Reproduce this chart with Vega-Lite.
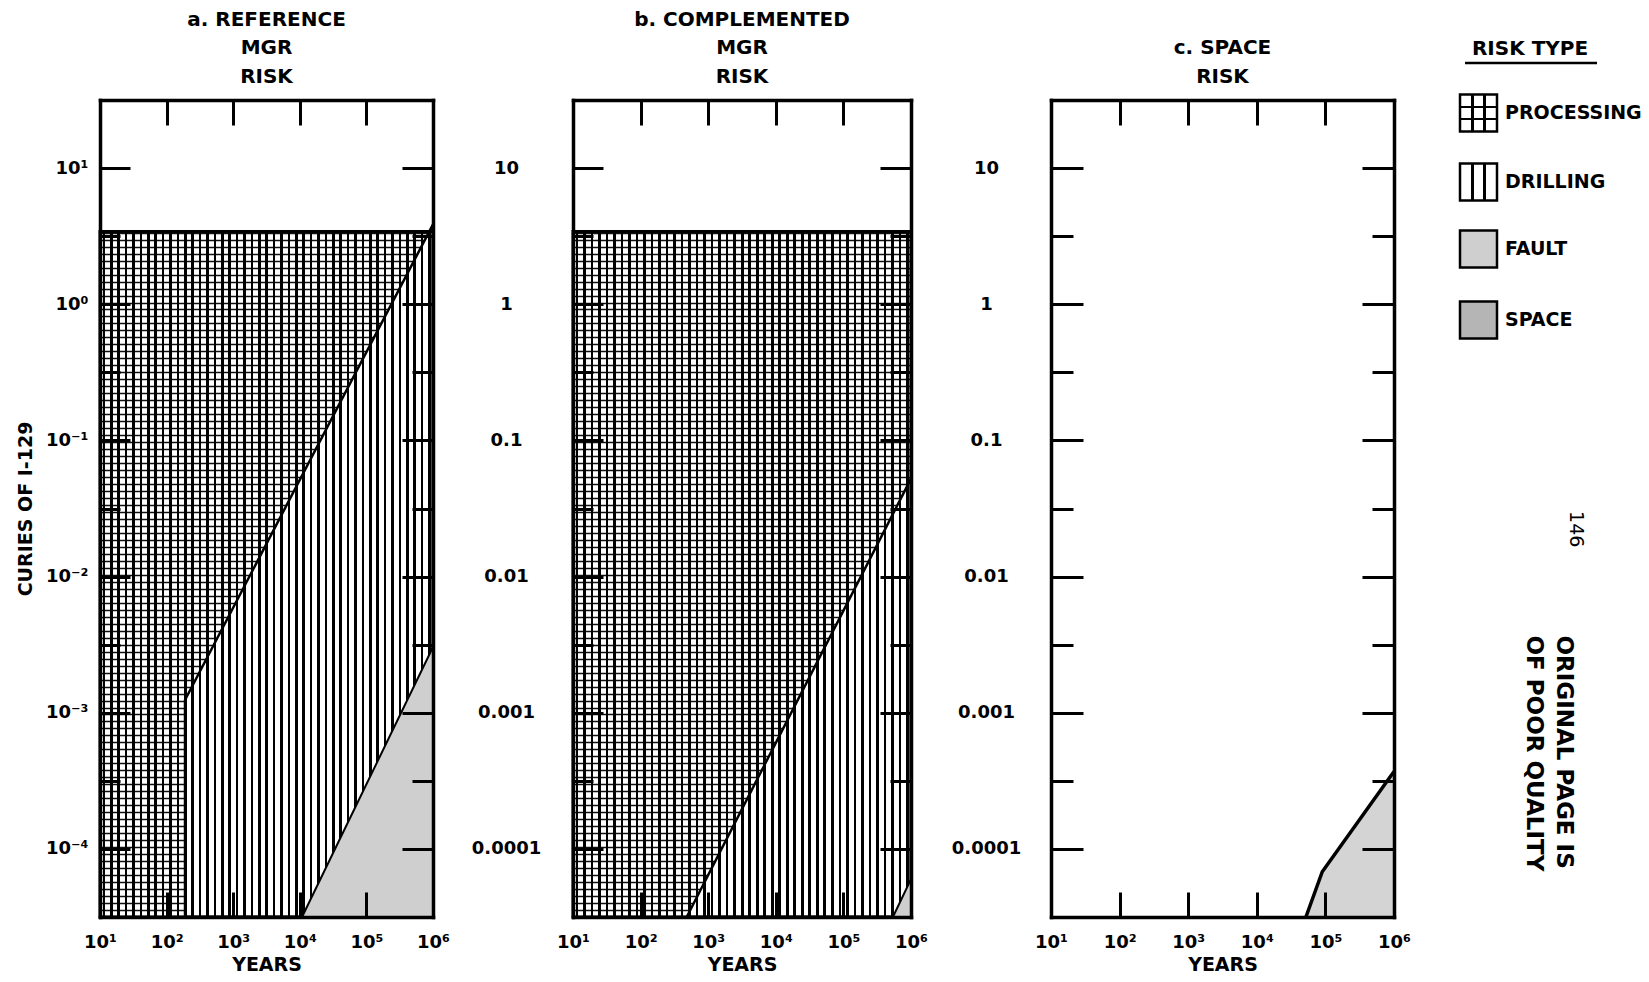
{
"$schema":"https://vega.github.io/schema/vega-lite/v6.json",
"background":"white",
"padding":{"left":16,"top":9,"right":0,"bottom":0},
"bounds":"flush",
"spacing":140,
"datasets":{
"curves":[
{"panel":"a","risk":"processing","year":10,"curies":3.42},
{"panel":"a","risk":"processing","year":1000000,"curies":3.42},
{"panel":"a","risk":"drilling","year":189,"curies":0.00124},
{"panel":"a","risk":"drilling","year":1000000,"curies":3.86},
{"panel":"a","risk":"fault","year":10800,"curies":0.000031623},
{"panel":"a","risk":"fault","year":1000000,"curies":0.00304},
{"panel":"b","risk":"processing","year":10,"curies":3.42},
{"panel":"b","risk":"processing","year":1000000,"curies":3.42},
{"panel":"b","risk":"drilling","year":481,"curies":0.000031623},
{"panel":"b","risk":"drilling","year":1000000,"curies":0.0524},
{"panel":"b","risk":"fault","year":540000,"curies":0.000031623},
{"panel":"b","risk":"fault","year":1000000,"curies":0.00006},
{"panel":"c","risk":"space","year":52000,"curies":0.000031623},
{"panel":"c","risk":"space","year":90000,"curies":0.000068},
{"panel":"c","risk":"space","year":1000000,"curies":0.00037}
],
"legend":[
{"type":"PROCESSING","slot":0},
{"type":"DRILLING","slot":1},
{"type":"FAULT","slot":1.97},
{"type":"SPACE","slot":3}
],
"heading":[
{"text":"RISK TYPE","slot":-0.93,"lineslot":-0.725}
],
"notes":[
{"kind":"page","note":"146","slot":6.03},
{"kind":"stamp","note":"ORIGINAL PAGE IS\nOF POOR QUALITY","slot":7.57}
]
},
"hconcat":[
{
"width":333,"height":817,
"title":{"text":["a. REFERENCE","MGR","RISK"],"fontSize":20,"fontWeight":"bold","lineHeight":28.5,"offset":-8,"baseline":"bottom","anchor":"middle","color":"black"},
"resolve":{"scale":{"x":"independent","y":"independent"},"axis":{"x":"independent","y":"independent"}},
"layer":[
{"data":{"values":[{}]},"mark":{"type":"rule","opacity":0},
"encoding":{"y":{"datum":0,"type":"quantitative","scale":{"domain":[0,117],"nice":false,"zero":false},"axis":{"orient":"left","grid":true,"gridColor":"#111111","gridWidth":1.4,"ticks":false,"labels":false,"domain":false,"title":null,"tickCount":117,"zindex":0}}}},
{"data":{"name":"curves"},"transform":[{"filter":"datum.panel=='a' && datum.risk=='processing'"}],
"mark":{"type":"area","fill":"white","strokeWidth":0},
"encoding":{
"x":{"field":"year","type":"quantitative","scale":{"type":"log","domain":[10,1000000],"nice":false},
"axis":{"orient":"bottom","values":[10,100,1000,10000,100000,1000000],"tickSize":-25,"tickWidth":3,"tickColor":"black","domain":true,"domainWidth":3.5,"domainColor":"black","domainCap":"square","grid":false,"labelExpr":"datum.value==10?'10¹':datum.value==100?'10²':datum.value==1000?'10³':datum.value==10000?'10⁴':datum.value==100000?'10⁵':'10⁶'","labelPadding":41,"labelFontSize":18,"labelFontWeight":"bold","labelColor":"black","labelFlush":false,"labelOverlap":false,"labelBound":false,"title":"YEARS","titleFontSize":19,"titleFontWeight":"bold","titleColor":"black","titlePadding":4,"zindex":1}},
"y":{"field":"curies","type":"quantitative","scale":{"type":"log","domain":[0.000031623,31.623],"nice":false},
"axis":{"orient":"left","values":[0.0001,0.00031623,0.001,0.0031623,0.01,0.031623,0.1,0.31623,1,3.1623,10],"tickSize":{"condition":{"test":"indexof([0.0001,0.001,0.01,0.1,1,10],datum.value)>=0","value":-30},"value":-20},"tickWidth":3,"tickColor":"black","domain":true,"domainWidth":3.5,"domainColor":"black","domainCap":"square","grid":false,"labelExpr":"datum.value==10?'10¹':datum.value==1?'10⁰':datum.value==0.1?'10⁻¹':datum.value==0.01?'10⁻²':datum.value==0.001?'10⁻³':datum.value==0.0001?'10⁻⁴':''","labelPadding":42,"labelFontSize":18,"labelFontWeight":"bold","labelColor":"black","labelBaseline":"middle","labelFlush":false,"labelOverlap":false,"labelBound":false,"title":"CURIES OF I-129","titleFontSize":19,"titleFontWeight":"bold","titleColor":"black","titlePadding":10,"zindex":1}},
"y2":{"datum":31.623}}},
{"data":{"name":"curves"},"transform":[{"filter":"datum.panel=='a' && datum.risk=='drilling'"}],
"mark":{"type":"area","fill":"white","stroke":"black","strokeWidth":2.5},
"encoding":{
"x":{"field":"year","type":"quantitative","scale":{"type":"log","domain":[10,1000000],"nice":false},
"axis":{"orient":"top","values":[100,1000,10000,100000],"tickSize":-25,"tickWidth":3,"tickColor":"black","domain":true,"domainWidth":3.5,"domainColor":"black","domainCap":"square","grid":false,"labels":false,"title":null,"zindex":1}},
"y":{"field":"curies","type":"quantitative","scale":{"type":"log","domain":[0.000031623,31.623],"nice":false},
"axis":{"orient":"right","values":[0.0001,0.00031623,0.001,0.0031623,0.01,0.031623,0.1,0.31623,1,3.1623,10],"tickSize":{"condition":{"test":"indexof([0.0001,0.001,0.01,0.1,1,10],datum.value)>=0","value":-31},"value":-21},"tickWidth":3,"tickColor":"black","domain":true,"domainWidth":3.5,"domainColor":"black","domainCap":"square","grid":false,"labels":false,"title":null,"zindex":1}},
"y2":{"datum":0.000031623}}},
{"data":{"name":"curves"},"transform":[{"filter":"datum.panel=='a' && datum.risk=='processing'"}],
"mark":{"type":"area","stroke":"black","strokeWidth":3,"fill":{"gradient":"linear","x1":0,"y1":0,"x2":1,"y2":0,"stops":[
{"offset":0.00778,"color":"transparent"},{"offset":0.00778,"color":"#000"},{"offset":0.01558,"color":"#000"},{"offset":0.01558,"color":"transparent"},
{"offset":0.03,"color":"transparent"},{"offset":0.03,"color":"#000"},{"offset":0.0378,"color":"#000"},{"offset":0.0378,"color":"transparent"},
{"offset":0.05222,"color":"transparent"},{"offset":0.05222,"color":"#000"},{"offset":0.06002,"color":"#000"},{"offset":0.06002,"color":"transparent"},
{"offset":0.07444,"color":"transparent"},{"offset":0.07444,"color":"#000"},{"offset":0.08224,"color":"#000"},{"offset":0.08224,"color":"transparent"},
{"offset":0.09667,"color":"transparent"},{"offset":0.09667,"color":"#000"},{"offset":0.10447,"color":"#000"},{"offset":0.10447,"color":"transparent"},
{"offset":0.11889,"color":"transparent"},{"offset":0.11889,"color":"#000"},{"offset":0.12669,"color":"#000"},{"offset":0.12669,"color":"transparent"},
{"offset":0.14111,"color":"transparent"},{"offset":0.14111,"color":"#000"},{"offset":0.14891,"color":"#000"},{"offset":0.14891,"color":"transparent"},
{"offset":0.16333,"color":"transparent"},{"offset":0.16333,"color":"#000"},{"offset":0.17113,"color":"#000"},{"offset":0.17113,"color":"transparent"},
{"offset":0.18556,"color":"transparent"},{"offset":0.18556,"color":"#000"},{"offset":0.19336,"color":"#000"},{"offset":0.19336,"color":"transparent"},
{"offset":0.20778,"color":"transparent"},{"offset":0.20778,"color":"#000"},{"offset":0.21558,"color":"#000"},{"offset":0.21558,"color":"transparent"},
{"offset":0.23,"color":"transparent"},{"offset":0.23,"color":"#000"},{"offset":0.2378,"color":"#000"},{"offset":0.2378,"color":"transparent"},
{"offset":0.25222,"color":"transparent"},{"offset":0.25222,"color":"#000"},{"offset":0.26002,"color":"#000"},{"offset":0.26002,"color":"transparent"},
{"offset":0.27444,"color":"transparent"},{"offset":0.27444,"color":"#000"},{"offset":0.28224,"color":"#000"},{"offset":0.28224,"color":"transparent"},
{"offset":0.29667,"color":"transparent"},{"offset":0.29667,"color":"#000"},{"offset":0.30447,"color":"#000"},{"offset":0.30447,"color":"transparent"},
{"offset":0.31889,"color":"transparent"},{"offset":0.31889,"color":"#000"},{"offset":0.32669,"color":"#000"},{"offset":0.32669,"color":"transparent"},
{"offset":0.34111,"color":"transparent"},{"offset":0.34111,"color":"#000"},{"offset":0.34891,"color":"#000"},{"offset":0.34891,"color":"transparent"},
{"offset":0.36333,"color":"transparent"},{"offset":0.36333,"color":"#000"},{"offset":0.37113,"color":"#000"},{"offset":0.37113,"color":"transparent"},
{"offset":0.38556,"color":"transparent"},{"offset":0.38556,"color":"#000"},{"offset":0.39336,"color":"#000"},{"offset":0.39336,"color":"transparent"},
{"offset":0.40778,"color":"transparent"},{"offset":0.40778,"color":"#000"},{"offset":0.41558,"color":"#000"},{"offset":0.41558,"color":"transparent"},
{"offset":0.43,"color":"transparent"},{"offset":0.43,"color":"#000"},{"offset":0.4378,"color":"#000"},{"offset":0.4378,"color":"transparent"},
{"offset":0.45222,"color":"transparent"},{"offset":0.45222,"color":"#000"},{"offset":0.46002,"color":"#000"},{"offset":0.46002,"color":"transparent"},
{"offset":0.47444,"color":"transparent"},{"offset":0.47444,"color":"#000"},{"offset":0.48224,"color":"#000"},{"offset":0.48224,"color":"transparent"},
{"offset":0.49667,"color":"transparent"},{"offset":0.49667,"color":"#000"},{"offset":0.50447,"color":"#000"},{"offset":0.50447,"color":"transparent"},
{"offset":0.51889,"color":"transparent"},{"offset":0.51889,"color":"#000"},{"offset":0.52669,"color":"#000"},{"offset":0.52669,"color":"transparent"},
{"offset":0.54111,"color":"transparent"},{"offset":0.54111,"color":"#000"},{"offset":0.54891,"color":"#000"},{"offset":0.54891,"color":"transparent"},
{"offset":0.56333,"color":"transparent"},{"offset":0.56333,"color":"#000"},{"offset":0.57113,"color":"#000"},{"offset":0.57113,"color":"transparent"},
{"offset":0.58556,"color":"transparent"},{"offset":0.58556,"color":"#000"},{"offset":0.59336,"color":"#000"},{"offset":0.59336,"color":"transparent"},
{"offset":0.60778,"color":"transparent"},{"offset":0.60778,"color":"#000"},{"offset":0.61558,"color":"#000"},{"offset":0.61558,"color":"transparent"},
{"offset":0.63,"color":"transparent"},{"offset":0.63,"color":"#000"},{"offset":0.6378,"color":"#000"},{"offset":0.6378,"color":"transparent"},
{"offset":0.65222,"color":"transparent"},{"offset":0.65222,"color":"#000"},{"offset":0.66002,"color":"#000"},{"offset":0.66002,"color":"transparent"},
{"offset":0.67444,"color":"transparent"},{"offset":0.67444,"color":"#000"},{"offset":0.68224,"color":"#000"},{"offset":0.68224,"color":"transparent"},
{"offset":0.69667,"color":"transparent"},{"offset":0.69667,"color":"#000"},{"offset":0.70447,"color":"#000"},{"offset":0.70447,"color":"transparent"},
{"offset":0.71889,"color":"transparent"},{"offset":0.71889,"color":"#000"},{"offset":0.72669,"color":"#000"},{"offset":0.72669,"color":"transparent"},
{"offset":0.74111,"color":"transparent"},{"offset":0.74111,"color":"#000"},{"offset":0.74891,"color":"#000"},{"offset":0.74891,"color":"transparent"},
{"offset":0.76333,"color":"transparent"},{"offset":0.76333,"color":"#000"},{"offset":0.77113,"color":"#000"},{"offset":0.77113,"color":"transparent"},
{"offset":0.78556,"color":"transparent"},{"offset":0.78556,"color":"#000"},{"offset":0.79336,"color":"#000"},{"offset":0.79336,"color":"transparent"},
{"offset":0.80778,"color":"transparent"},{"offset":0.80778,"color":"#000"},{"offset":0.81558,"color":"#000"},{"offset":0.81558,"color":"transparent"},
{"offset":0.83,"color":"transparent"},{"offset":0.83,"color":"#000"},{"offset":0.8378,"color":"#000"},{"offset":0.8378,"color":"transparent"},
{"offset":0.85222,"color":"transparent"},{"offset":0.85222,"color":"#000"},{"offset":0.86002,"color":"#000"},{"offset":0.86002,"color":"transparent"},
{"offset":0.87444,"color":"transparent"},{"offset":0.87444,"color":"#000"},{"offset":0.88224,"color":"#000"},{"offset":0.88224,"color":"transparent"},
{"offset":0.89667,"color":"transparent"},{"offset":0.89667,"color":"#000"},{"offset":0.90447,"color":"#000"},{"offset":0.90447,"color":"transparent"},
{"offset":0.91889,"color":"transparent"},{"offset":0.91889,"color":"#000"},{"offset":0.92669,"color":"#000"},{"offset":0.92669,"color":"transparent"},
{"offset":0.94111,"color":"transparent"},{"offset":0.94111,"color":"#000"},{"offset":0.94891,"color":"#000"},{"offset":0.94891,"color":"transparent"},
{"offset":0.96333,"color":"transparent"},{"offset":0.96333,"color":"#000"},{"offset":0.97113,"color":"#000"},{"offset":0.97113,"color":"transparent"},
{"offset":0.98556,"color":"transparent"},{"offset":0.98556,"color":"#000"},{"offset":0.99336,"color":"#000"},{"offset":0.99336,"color":"transparent"}
]}},
"encoding":{
"x":{"field":"year","type":"quantitative","scale":{"type":"log","domain":[10,1000000],"nice":false},"axis":null},
"y":{"field":"curies","type":"quantitative","scale":{"type":"log","domain":[0.000031623,31.623],"nice":false},"axis":null},
"y2":{"datum":0.000031623}}},
{"data":{"name":"curves"},"transform":[{"filter":"datum.panel=='a' && datum.risk=='fault'"}],
"mark":{"type":"area","fill":"#cfcfcf","stroke":"black","strokeWidth":2},
"encoding":{
"x":{"field":"year","type":"quantitative","scale":{"type":"log","domain":[10,1000000],"nice":false},"axis":null},
"y":{"field":"curies","type":"quantitative","scale":{"type":"log","domain":[0.000031623,31.623],"nice":false},"axis":null},
"y2":{"datum":0.000031623}}}
]
},
{
"width":338,"height":817,
"title":{"text":["b. COMPLEMENTED","MGR","RISK"],"fontSize":20,"fontWeight":"bold","lineHeight":28.5,"offset":-8,"baseline":"bottom","anchor":"middle","color":"black"},
"resolve":{"scale":{"x":"independent","y":"independent"},"axis":{"x":"independent","y":"independent"}},
"layer":[
{"data":{"values":[{}]},"mark":{"type":"rule","opacity":0},
"encoding":{"y":{"datum":0,"type":"quantitative","scale":{"domain":[0,117],"nice":false,"zero":false},"axis":{"orient":"left","grid":true,"gridColor":"#111111","gridWidth":1.4,"ticks":false,"labels":false,"domain":false,"title":null,"tickCount":117,"zindex":0}}}},
{"data":{"name":"curves"},"transform":[{"filter":"datum.panel=='b' && datum.risk=='processing'"}],
"mark":{"type":"area","fill":"white","strokeWidth":0},
"encoding":{
"x":{"field":"year","type":"quantitative","scale":{"type":"log","domain":[10,1000000],"nice":false},
"axis":{"orient":"bottom","values":[10,100,1000,10000,100000,1000000],"tickSize":-25,"tickWidth":3,"tickColor":"black","domain":true,"domainWidth":3.5,"domainColor":"black","domainCap":"square","grid":false,"labelExpr":"datum.value==10?'10¹':datum.value==100?'10²':datum.value==1000?'10³':datum.value==10000?'10⁴':datum.value==100000?'10⁵':'10⁶'","labelPadding":41,"labelFontSize":18,"labelFontWeight":"bold","labelColor":"black","labelFlush":false,"labelOverlap":false,"labelBound":false,"title":"YEARS","titleFontSize":19,"titleFontWeight":"bold","titleColor":"black","titlePadding":4,"zindex":1}},
"y":{"field":"curies","type":"quantitative","scale":{"type":"log","domain":[0.000031623,31.623],"nice":false},
"axis":{"orient":"left","values":[0.0001,0.00031623,0.001,0.0031623,0.01,0.031623,0.1,0.31623,1,3.1623,10],"tickSize":{"condition":{"test":"indexof([0.0001,0.001,0.01,0.1,1,10],datum.value)>=0","value":-30},"value":-20},"tickWidth":3,"tickColor":"black","domain":true,"domainWidth":3.5,"domainColor":"black","domainCap":"square","grid":false,"labelExpr":"datum.value==10?'10':datum.value==1?'1':datum.value==0.1?'0.1':datum.value==0.01?'0.01':datum.value==0.001?'0.001':datum.value==0.0001?'0.0001':''","labelAlign":"center","labelPadding":97,"labelFontSize":18,"labelFontWeight":"bold","labelColor":"black","labelBaseline":"middle","labelFlush":false,"labelOverlap":false,"labelBound":false,"title":null,"zindex":1}},
"y2":{"datum":31.623}}},
{"data":{"name":"curves"},"transform":[{"filter":"datum.panel=='b' && datum.risk=='drilling'"}],
"mark":{"type":"area","fill":"white","stroke":"black","strokeWidth":2.5},
"encoding":{
"x":{"field":"year","type":"quantitative","scale":{"type":"log","domain":[10,1000000],"nice":false},
"axis":{"orient":"top","values":[100,1000,10000,100000],"tickSize":-25,"tickWidth":3,"tickColor":"black","domain":true,"domainWidth":3.5,"domainColor":"black","domainCap":"square","grid":false,"labels":false,"title":null,"zindex":1}},
"y":{"field":"curies","type":"quantitative","scale":{"type":"log","domain":[0.000031623,31.623],"nice":false},
"axis":{"orient":"right","values":[0.0001,0.00031623,0.001,0.0031623,0.01,0.031623,0.1,0.31623,1,3.1623,10],"tickSize":{"condition":{"test":"indexof([0.0001,0.001,0.01,0.1,1,10],datum.value)>=0","value":-31},"value":-21},"tickWidth":3,"tickColor":"black","domain":true,"domainWidth":3.5,"domainColor":"black","domainCap":"square","grid":false,"labels":false,"title":null,"zindex":1}},
"y2":{"datum":0.000031623}}},
{"data":{"name":"curves"},"transform":[{"filter":"datum.panel=='b' && datum.risk=='processing'"}],
"mark":{"type":"area","stroke":"black","strokeWidth":3,"fill":{"gradient":"linear","x1":0,"y1":0,"x2":1,"y2":0,"stops":[
{"offset":0.00778,"color":"transparent"},{"offset":0.00778,"color":"#000"},{"offset":0.01558,"color":"#000"},{"offset":0.01558,"color":"transparent"},
{"offset":0.03,"color":"transparent"},{"offset":0.03,"color":"#000"},{"offset":0.0378,"color":"#000"},{"offset":0.0378,"color":"transparent"},
{"offset":0.05222,"color":"transparent"},{"offset":0.05222,"color":"#000"},{"offset":0.06002,"color":"#000"},{"offset":0.06002,"color":"transparent"},
{"offset":0.07444,"color":"transparent"},{"offset":0.07444,"color":"#000"},{"offset":0.08224,"color":"#000"},{"offset":0.08224,"color":"transparent"},
{"offset":0.09667,"color":"transparent"},{"offset":0.09667,"color":"#000"},{"offset":0.10447,"color":"#000"},{"offset":0.10447,"color":"transparent"},
{"offset":0.11889,"color":"transparent"},{"offset":0.11889,"color":"#000"},{"offset":0.12669,"color":"#000"},{"offset":0.12669,"color":"transparent"},
{"offset":0.14111,"color":"transparent"},{"offset":0.14111,"color":"#000"},{"offset":0.14891,"color":"#000"},{"offset":0.14891,"color":"transparent"},
{"offset":0.16333,"color":"transparent"},{"offset":0.16333,"color":"#000"},{"offset":0.17113,"color":"#000"},{"offset":0.17113,"color":"transparent"},
{"offset":0.18556,"color":"transparent"},{"offset":0.18556,"color":"#000"},{"offset":0.19336,"color":"#000"},{"offset":0.19336,"color":"transparent"},
{"offset":0.20778,"color":"transparent"},{"offset":0.20778,"color":"#000"},{"offset":0.21558,"color":"#000"},{"offset":0.21558,"color":"transparent"},
{"offset":0.23,"color":"transparent"},{"offset":0.23,"color":"#000"},{"offset":0.2378,"color":"#000"},{"offset":0.2378,"color":"transparent"},
{"offset":0.25222,"color":"transparent"},{"offset":0.25222,"color":"#000"},{"offset":0.26002,"color":"#000"},{"offset":0.26002,"color":"transparent"},
{"offset":0.27444,"color":"transparent"},{"offset":0.27444,"color":"#000"},{"offset":0.28224,"color":"#000"},{"offset":0.28224,"color":"transparent"},
{"offset":0.29667,"color":"transparent"},{"offset":0.29667,"color":"#000"},{"offset":0.30447,"color":"#000"},{"offset":0.30447,"color":"transparent"},
{"offset":0.31889,"color":"transparent"},{"offset":0.31889,"color":"#000"},{"offset":0.32669,"color":"#000"},{"offset":0.32669,"color":"transparent"},
{"offset":0.34111,"color":"transparent"},{"offset":0.34111,"color":"#000"},{"offset":0.34891,"color":"#000"},{"offset":0.34891,"color":"transparent"},
{"offset":0.36333,"color":"transparent"},{"offset":0.36333,"color":"#000"},{"offset":0.37113,"color":"#000"},{"offset":0.37113,"color":"transparent"},
{"offset":0.38556,"color":"transparent"},{"offset":0.38556,"color":"#000"},{"offset":0.39336,"color":"#000"},{"offset":0.39336,"color":"transparent"},
{"offset":0.40778,"color":"transparent"},{"offset":0.40778,"color":"#000"},{"offset":0.41558,"color":"#000"},{"offset":0.41558,"color":"transparent"},
{"offset":0.43,"color":"transparent"},{"offset":0.43,"color":"#000"},{"offset":0.4378,"color":"#000"},{"offset":0.4378,"color":"transparent"},
{"offset":0.45222,"color":"transparent"},{"offset":0.45222,"color":"#000"},{"offset":0.46002,"color":"#000"},{"offset":0.46002,"color":"transparent"},
{"offset":0.47444,"color":"transparent"},{"offset":0.47444,"color":"#000"},{"offset":0.48224,"color":"#000"},{"offset":0.48224,"color":"transparent"},
{"offset":0.49667,"color":"transparent"},{"offset":0.49667,"color":"#000"},{"offset":0.50447,"color":"#000"},{"offset":0.50447,"color":"transparent"},
{"offset":0.51889,"color":"transparent"},{"offset":0.51889,"color":"#000"},{"offset":0.52669,"color":"#000"},{"offset":0.52669,"color":"transparent"},
{"offset":0.54111,"color":"transparent"},{"offset":0.54111,"color":"#000"},{"offset":0.54891,"color":"#000"},{"offset":0.54891,"color":"transparent"},
{"offset":0.56333,"color":"transparent"},{"offset":0.56333,"color":"#000"},{"offset":0.57113,"color":"#000"},{"offset":0.57113,"color":"transparent"},
{"offset":0.58556,"color":"transparent"},{"offset":0.58556,"color":"#000"},{"offset":0.59336,"color":"#000"},{"offset":0.59336,"color":"transparent"},
{"offset":0.60778,"color":"transparent"},{"offset":0.60778,"color":"#000"},{"offset":0.61558,"color":"#000"},{"offset":0.61558,"color":"transparent"},
{"offset":0.63,"color":"transparent"},{"offset":0.63,"color":"#000"},{"offset":0.6378,"color":"#000"},{"offset":0.6378,"color":"transparent"},
{"offset":0.65222,"color":"transparent"},{"offset":0.65222,"color":"#000"},{"offset":0.66002,"color":"#000"},{"offset":0.66002,"color":"transparent"},
{"offset":0.67444,"color":"transparent"},{"offset":0.67444,"color":"#000"},{"offset":0.68224,"color":"#000"},{"offset":0.68224,"color":"transparent"},
{"offset":0.69667,"color":"transparent"},{"offset":0.69667,"color":"#000"},{"offset":0.70447,"color":"#000"},{"offset":0.70447,"color":"transparent"},
{"offset":0.71889,"color":"transparent"},{"offset":0.71889,"color":"#000"},{"offset":0.72669,"color":"#000"},{"offset":0.72669,"color":"transparent"},
{"offset":0.74111,"color":"transparent"},{"offset":0.74111,"color":"#000"},{"offset":0.74891,"color":"#000"},{"offset":0.74891,"color":"transparent"},
{"offset":0.76333,"color":"transparent"},{"offset":0.76333,"color":"#000"},{"offset":0.77113,"color":"#000"},{"offset":0.77113,"color":"transparent"},
{"offset":0.78556,"color":"transparent"},{"offset":0.78556,"color":"#000"},{"offset":0.79336,"color":"#000"},{"offset":0.79336,"color":"transparent"},
{"offset":0.80778,"color":"transparent"},{"offset":0.80778,"color":"#000"},{"offset":0.81558,"color":"#000"},{"offset":0.81558,"color":"transparent"},
{"offset":0.83,"color":"transparent"},{"offset":0.83,"color":"#000"},{"offset":0.8378,"color":"#000"},{"offset":0.8378,"color":"transparent"},
{"offset":0.85222,"color":"transparent"},{"offset":0.85222,"color":"#000"},{"offset":0.86002,"color":"#000"},{"offset":0.86002,"color":"transparent"},
{"offset":0.87444,"color":"transparent"},{"offset":0.87444,"color":"#000"},{"offset":0.88224,"color":"#000"},{"offset":0.88224,"color":"transparent"},
{"offset":0.89667,"color":"transparent"},{"offset":0.89667,"color":"#000"},{"offset":0.90447,"color":"#000"},{"offset":0.90447,"color":"transparent"},
{"offset":0.91889,"color":"transparent"},{"offset":0.91889,"color":"#000"},{"offset":0.92669,"color":"#000"},{"offset":0.92669,"color":"transparent"},
{"offset":0.94111,"color":"transparent"},{"offset":0.94111,"color":"#000"},{"offset":0.94891,"color":"#000"},{"offset":0.94891,"color":"transparent"},
{"offset":0.96333,"color":"transparent"},{"offset":0.96333,"color":"#000"},{"offset":0.97113,"color":"#000"},{"offset":0.97113,"color":"transparent"},
{"offset":0.98556,"color":"transparent"},{"offset":0.98556,"color":"#000"},{"offset":0.99336,"color":"#000"},{"offset":0.99336,"color":"transparent"}
]}},
"encoding":{
"x":{"field":"year","type":"quantitative","scale":{"type":"log","domain":[10,1000000],"nice":false},"axis":null},
"y":{"field":"curies","type":"quantitative","scale":{"type":"log","domain":[0.000031623,31.623],"nice":false},"axis":null},
"y2":{"datum":0.000031623}}},
{"data":{"name":"curves"},"transform":[{"filter":"datum.panel=='b' && datum.risk=='fault'"}],
"mark":{"type":"area","fill":"#cfcfcf","stroke":"black","strokeWidth":2},
"encoding":{
"x":{"field":"year","type":"quantitative","scale":{"type":"log","domain":[10,1000000],"nice":false},"axis":null},
"y":{"field":"curies","type":"quantitative","scale":{"type":"log","domain":[0.000031623,31.623],"nice":false},"axis":null},
"y2":{"datum":0.000031623}}}
]
},
{
"bounds":"flush",
"spacing":66,
"hconcat":[
{
"width":343,"height":817,
"title":{"text":["c. SPACE","RISK"],"fontSize":20,"fontWeight":"bold","lineHeight":28.5,"offset":-8,"baseline":"bottom","anchor":"middle","color":"black"},
"resolve":{"scale":{"x":"independent","y":"independent"},"axis":{"x":"independent","y":"independent"}},
"layer":[
{"data":{"name":"curves"},"transform":[{"filter":"datum.panel=='c' && datum.risk=='space'"}],
"mark":{"type":"area","fill":"#d4d4d4","strokeWidth":0},
"encoding":{
"x":{"field":"year","type":"quantitative","scale":{"type":"log","domain":[10,1000000],"nice":false},
"axis":{"orient":"bottom","values":[10,100,1000,10000,100000,1000000],"tickSize":-25,"tickWidth":3,"tickColor":"black","domain":true,"domainWidth":3.5,"domainColor":"black","domainCap":"square","grid":false,"labelExpr":"datum.value==10?'10¹':datum.value==100?'10²':datum.value==1000?'10³':datum.value==10000?'10⁴':datum.value==100000?'10⁵':'10⁶'","labelPadding":41,"labelFontSize":18,"labelFontWeight":"bold","labelColor":"black","labelFlush":false,"labelOverlap":false,"labelBound":false,"title":"YEARS","titleFontSize":19,"titleFontWeight":"bold","titleColor":"black","titlePadding":4,"zindex":1}},
"y":{"field":"curies","type":"quantitative","scale":{"type":"log","domain":[0.000031623,31.623],"nice":false},
"axis":{"orient":"left","values":[0.0001,0.00031623,0.001,0.0031623,0.01,0.031623,0.1,0.31623,1,3.1623,10],"tickSize":{"condition":{"test":"indexof([0.0001,0.001,0.01,0.1,1,10],datum.value)>=0","value":-32},"value":-22},"tickWidth":3,"tickColor":"black","domain":true,"domainWidth":3.5,"domainColor":"black","domainCap":"square","grid":false,"labelExpr":"datum.value==10?'10':datum.value==1?'1':datum.value==0.1?'0.1':datum.value==0.01?'0.01':datum.value==0.001?'0.001':datum.value==0.0001?'0.0001':''","labelAlign":"center","labelPadding":97,"labelFontSize":18,"labelFontWeight":"bold","labelColor":"black","labelBaseline":"middle","labelFlush":false,"labelOverlap":false,"labelBound":false,"title":null,"zindex":1}},
"y2":{"datum":0.000031623}}},
{"data":{"name":"curves"},"transform":[{"filter":"datum.panel=='c' && datum.risk=='space'"}],
"mark":{"type":"line","stroke":"black","strokeWidth":3.5},
"encoding":{
"x":{"field":"year","type":"quantitative","scale":{"type":"log","domain":[10,1000000],"nice":false},
"axis":{"orient":"top","values":[100,1000,10000,100000],"tickSize":-25,"tickWidth":3,"tickColor":"black","domain":true,"domainWidth":3.5,"domainColor":"black","domainCap":"square","grid":false,"labels":false,"title":null,"zindex":1}},
"y":{"field":"curies","type":"quantitative","scale":{"type":"log","domain":[0.000031623,31.623],"nice":false},
"axis":{"orient":"right","values":[0.0001,0.00031623,0.001,0.0031623,0.01,0.031623,0.1,0.31623,1,3.1623,10],"tickSize":{"condition":{"test":"indexof([0.0001,0.001,0.01,0.1,1,10],datum.value)>=0","value":-32},"value":-22},"tickWidth":3,"tickColor":"black","domain":true,"domainWidth":3.5,"domainColor":"black","domainCap":"square","grid":false,"labels":false,"title":null,"zindex":1}}}}
]
},
{
"width":140,"height":817,
"encoding":{"y":{"field":"slot","type":"quantitative","scale":{"domain":[-0.19,11.65],"reverse":true,"nice":false,"zero":false},"axis":null}},
"layer":[
{"data":{"name":"legend"},
"mark":{"type":"point","shape":"square","size":1369,"filled":true,"opacity":1,"stroke":"black","strokeWidth":2.5},
"encoding":{
"x":{"datum":18.5,"type":"quantitative","scale":{"domain":[0,140],"nice":false,"zero":false},"axis":null},
"fill":{"field":"type","type":"nominal","scale":{"domain":["PROCESSING","DRILLING","FAULT","SPACE"],"range":["white","white","#cfcfcf","#b5b5b5"]},"legend":null}}},
{"data":{"name":"legend"},"transform":[{"filter":"datum.type=='PROCESSING' || datum.type=='DRILLING'"}],
"mark":{"type":"point","shape":"square","size":1369,"filled":true,"opacity":1,"strokeWidth":0,
"fill":{"gradient":"linear","x1":0,"y1":0,"x2":1,"y2":0,"stops":[{"offset":0.31,"color":"transparent"},{"offset":0.31,"color":"#000"},{"offset":0.37,"color":"#000"},{"offset":0.37,"color":"transparent"},{"offset":0.63,"color":"transparent"},{"offset":0.63,"color":"#000"},{"offset":0.69,"color":"#000"},{"offset":0.69,"color":"transparent"}]}},
"encoding":{"x":{"datum":18.5,"type":"quantitative","axis":null}}},
{"data":{"name":"legend"},"transform":[{"filter":"datum.type=='PROCESSING'"}],
"mark":{"type":"point","shape":"square","size":1369,"filled":true,"opacity":1,"strokeWidth":0,
"fill":{"gradient":"linear","x1":0,"y1":0,"x2":0,"y2":1,"stops":[{"offset":0.31,"color":"transparent"},{"offset":0.31,"color":"#000"},{"offset":0.36,"color":"#000"},{"offset":0.36,"color":"transparent"},{"offset":0.64,"color":"transparent"},{"offset":0.64,"color":"#000"},{"offset":0.69,"color":"#000"},{"offset":0.69,"color":"transparent"}]}},
"encoding":{"x":{"datum":18.5,"type":"quantitative","axis":null}}},
{"data":{"name":"legend"},
"mark":{"type":"text","align":"left","baseline":"middle","fontSize":19,"fontWeight":"bold","color":"black"},
"encoding":{"x":{"datum":45,"type":"quantitative","axis":null},"text":{"field":"type"}}},
{"data":{"name":"heading"},
"mark":{"type":"text","align":"center","baseline":"middle","fontSize":20,"fontWeight":"bold","color":"black"},
"encoding":{"x":{"datum":70,"type":"quantitative","axis":null},"text":{"field":"text"}}},
{"data":{"name":"heading"},
"mark":{"type":"rule","stroke":"black","strokeWidth":2.5},
"encoding":{"x":{"datum":5,"type":"quantitative","axis":null},"x2":{"datum":137},"y":{"field":"lineslot","type":"quantitative"}}},
{"data":{"name":"notes"},"transform":[{"filter":"datum.kind=='page'"}],
"mark":{"type":"text","angle":90,"align":"center","baseline":"middle","fontSize":19,"fontWeight":"normal","color":"black"},
"encoding":{"x":{"datum":116,"type":"quantitative","axis":null},"text":{"field":"note"}}},
{"data":{"name":"notes"},"transform":[{"filter":"datum.kind=='stamp'"}],
"mark":{"type":"text","angle":90,"align":"left","baseline":"middle","fontSize":23,"fontWeight":"bold","lineHeight":30,"lineBreak":"\n","color":"black"},
"encoding":{"x":{"datum":104,"type":"quantitative","axis":null},"text":{"field":"note"}}}
]
}
]
}
],
"config":{
"view":{"stroke":null},
"font":"DejaVu Sans",
"axis":{"labelFont":"DejaVu Sans","titleFont":"DejaVu Sans"},
"title":{"font":"DejaVu Sans"},
"text":{"font":"DejaVu Sans"}
}
}
